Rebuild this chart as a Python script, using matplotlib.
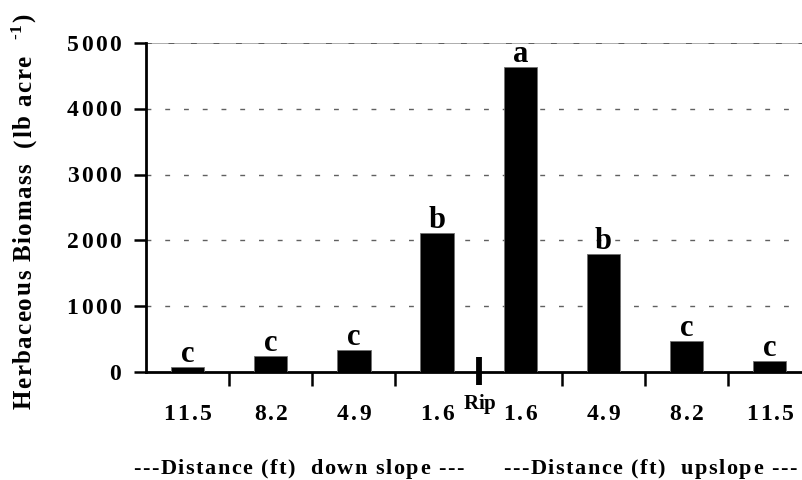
import matplotlib
matplotlib.use("Agg")
import matplotlib.pyplot as plt
import numpy as np
from matplotlib.font_manager import FontProperties, findfont, get_font
from matplotlib.transforms import offset_copy

# --- Data ---
distances = ["11.5", "8.2", "4.9", "1.6", "1.6", "4.9", "8.2", "11.5"]
biomass = [80, 238, 333, 2113, 4635, 1789, 471, 167]
letters = ["c", "c", "c", "b", "a", "b", "c", "c"]
yticks = [0, 1000, 2000, 3000, 4000, 5000]

DPI = 100
FAMILY = "Liberation Serif"

fig = plt.figure(figsize=(8.03, 4.80), dpi=DPI)
ax = fig.add_axes([0.1818, 0.225, 0.8182, 0.685])


def advances(s, size):
    """Horizontal advance of each character in pixels."""
    fp = FontProperties(family=FAMILY, weight="bold", size=size)
    font = get_font(findfont(fp))
    font.set_size(size, DPI)
    return [font.load_char(ord(ch)).linearHoriAdvance / 65536 for ch in s]


def tracked(x, y, segments, transform, track=2.0, rotation=0, ha="center",
            dx=0.0, dy=0.0):
    """Bold serif text with extra letter spacing; segments = [(text, size, rise_px)]."""
    chars = []
    for text, size, rise in segments:
        for ch, a in zip(text, advances(text, size)):
            chars.append((ch, a, size, rise))
    total = sum(c[1] for c in chars) + track * (len(chars) - 1)
    pos = {"center": -total / 2, "left": 0.0, "right": -total}[ha]
    th = np.deg2rad(rotation)
    d = np.array([np.cos(th), np.sin(th)])
    u = np.array([-np.sin(th), np.cos(th)])
    for ch, a, size, rise in chars:
        if ch != " ":
            off = d * (pos + a / 2) + u * rise + np.array([dx, dy])
            tr = offset_copy(transform, fig=fig, x=off[0], y=off[1], units="dots")
            fig.text(x, y, ch, transform=tr, family=FAMILY, weight="bold",
                     fontsize=size, rotation=rotation, rotation_mode="anchor",
                     ha="center", va="baseline")
        pos += a + track


x = np.arange(len(biomass)) + 0.5
ax.bar(x, biomass, width=0.4, color="black", edgecolor="#707070", linewidth=0.6, zorder=3)

# significance letters above bars
for xi, v, lab in zip(x, biomass, letters):
    tracked(xi, v, [(lab, 22, 0)], ax.transData, dy=5)

# dashed horizontal grid; top line a solid grey frame with dashes over it
for yv in yticks[1:5]:
    ax.axhline(yv, color="#606060", linewidth=1.0, linestyle=(0, (3.5, 10)), zorder=1)
ax.axhline(5000, color="#a0a0a0", linewidth=1.2, zorder=1)
ax.axhline(5000, color="#505050", linewidth=1.2, linestyle=(0, (3.5, 10)), zorder=2)

ax.set_xlim(0, 7.9)
ax.set_ylim(0, 5000)
ax.set_yticks(yticks)
ax.set_yticklabels([])
ax.set_xticks([i for i in range(1, 8) if i != 4])
ax.set_xticklabels([])
ax.tick_params(axis="x", length=10, width=1.8, direction="out")
ax.tick_params(axis="y", length=9, width=1.8, direction="out")

for t in yticks:
    tracked(0, t, [(str(t), 17, 0)], ax.get_yaxis_transform(), track=2.4,
            ha="right", dx=-25, dy=-7.5)
for xi, lab in zip(x, distances):
    tracked(xi, 0, [(lab, 17, 0)], ax.get_xaxis_transform(), track=2.2, dy=-48)

# rip marker on the centre line
ax.plot([4, 4], [-198, 228], color="black", linewidth=4.2, clip_on=False, zorder=4,
        solid_capstyle="butt")
tracked(4.01, 0, [("Rip", 15, 0)], ax.get_xaxis_transform(), track=0.0, dy=-37)

for side in ["top", "right"]:
    ax.spines[side].set_visible(False)
ax.spines["left"].set_linewidth(2)
ax.spines["bottom"].set_linewidth(2)
ax.spines["left"].set_zorder(5)

# axis titles
tracked(31 / 803, 269 / 480,
        [("Herbaceous Biomass  (lb acre  ", 18, 0), ("-1", 12.5, 10), (")", 18, 0)],
        fig.transFigure, track=1.4, rotation=90)
tracked(298.5 / 803, 6 / 480, [("---Distance (ft)  down slope ---", 16, 0)],
        fig.transFigure, track=1.5)
tracked(650 / 803, 6 / 480, [("---Distance (ft)  upslope ---", 16, 0)],
        fig.transFigure, track=1.5)

fig.savefig("out.png", dpi=DPI)
